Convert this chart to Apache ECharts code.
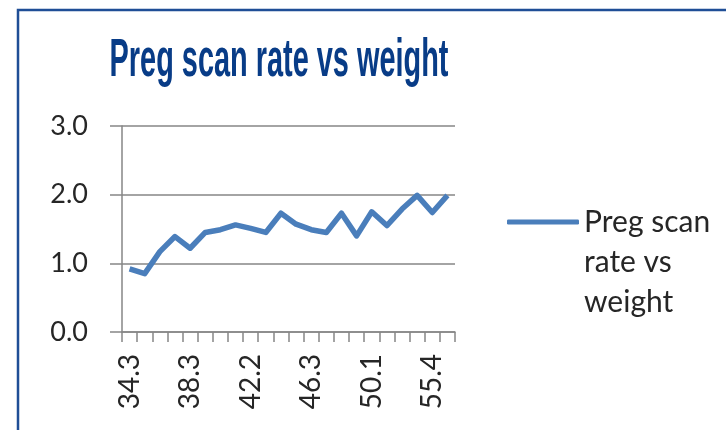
<!DOCTYPE html>
<html>
<head>
<meta charset="utf-8">
<title>Preg scan rate vs weight</title>
<script src="https://cdn.jsdelivr.net/npm/echarts@6/dist/echarts.min.js"></script>
<style>
  html, body { margin: 0; padding: 0; background: #fff; }
  #chart { width: 726px; height: 430px; }
</style>
</head>
<body>
<div id="chart"></div>
<script>
// weight classes (only every 4th shows a label)
const weights = ['34.3', '35.3', '36.3', '37.3', '38.3', '39.3', '40.2', '41.2',
  '42.2', '43.2', '44.3', '45.3', '46.3', '47.2', '48.2', '49.1',
  '50.1', '51.4', '52.8', '54.1', '55.4', '56.7'];
// preg scan rate per weight
const scanRate = [0.92, 0.85, 1.17, 1.39, 1.22, 1.45, 1.49, 1.56, 1.51, 1.45, 1.73,
  1.57, 1.49, 1.45, 1.73, 1.40, 1.75, 1.55, 1.79, 1.99, 1.74, 1.99];
const yTicks = [0, 1, 2, 3];

const seriesName = 'Preg scan rate vs weight';
const axisGrey = '#868686';
const lineBlue = '#4A7EBB';
const labelFont = 'Lato';

const chart = echarts.init(document.getElementById('chart'));

const option = {
  animation: false,
  backgroundColor: '#fff',
  graphic: [
    {
      // outer frame, cut off at right and bottom
      type: 'rect',
      shape: { x: 18, y: 10, width: 760, height: 460 },
      style: { fill: 'none', stroke: '#1F4E96', lineWidth: 2.5 },
      silent: true
    },
    {
      // condensed heading
      type: 'text',
      x: 279,
      y: 61,
      scaleX: 0.535,
      style: {
        text: seriesName,
        fill: '#083C87',
        font: 'bold 54px "Liberation Sans Narrow", "Liberation Sans", sans-serif',
        align: 'center',
        verticalAlign: 'middle'
      }
    }
  ],
  legend: {
    left: 507,
    top: 122,
    padding: 0,
    icon: 'roundRect',
    itemWidth: 72,
    itemHeight: 5,
    data: [seriesName],
    // two empty lines so the first text line sits level with the icon
    formatter: function () {
      return '\n\nPreg scan\nrate vs\nweight';
    },
    textStyle: {
      fontFamily: labelFont,
      fontSize: 30,
      lineHeight: 40,
      color: '#262626'
    }
  },
  grid: {
    left: 122,
    right: 271,
    top: 126,
    bottom: 98,
    containLabel: false
  },
  xAxis: {
    type: 'category',
    data: weights,
    boundaryGap: true,
    axisLine: { lineStyle: { color: axisGrey, width: 1.5 } },
    axisTick: { show: true, interval: 0, length: 10, lineStyle: { color: axisGrey, width: 1.5 } },
    axisLabel: {
      interval: 3,
      rotate: 90,
      margin: 22,
      fontFamily: labelFont,
      fontSize: 28,
      color: '#262626'
    },
    splitLine: { show: false }
  },
  yAxis: {
    type: 'value',
    min: yTicks[0],
    max: yTicks[yTicks.length - 1],
    interval: 1,
    axisLine: { show: true, lineStyle: { color: axisGrey, width: 1.5 } },
    axisTick: { show: true, length: 12, lineStyle: { color: axisGrey, width: 1.5 } },
    axisLabel: {
      margin: 34,
      fontFamily: labelFont,
      fontSize: 27,
      color: '#262626',
      formatter: v => v.toFixed(1)
    },
    splitLine: { show: true, lineStyle: { color: axisGrey, width: 1.5 } }
  },
  series: [{
    name: seriesName,
    type: 'line',
    data: scanRate,
    symbol: 'none',
    lineStyle: { color: lineBlue, width: 5.5, join: 'round' },
    itemStyle: { color: lineBlue }
  }]
};

chart.setOption(option);
</script>
</body>
</html>
